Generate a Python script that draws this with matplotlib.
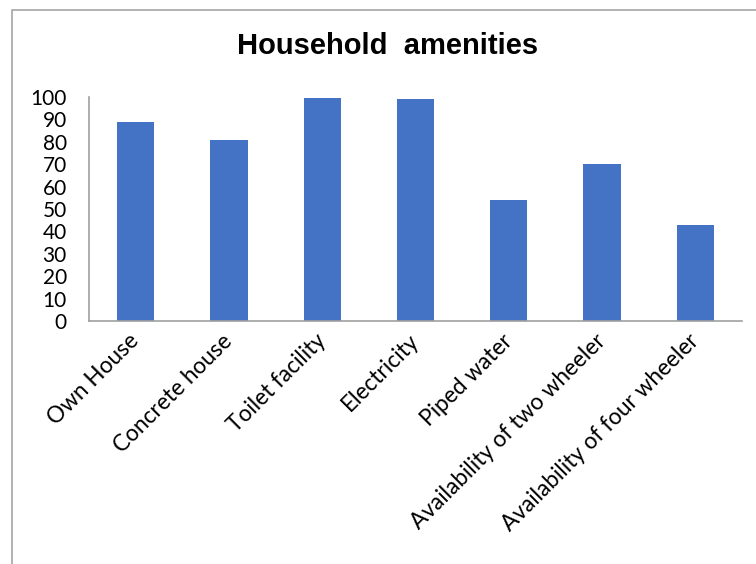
import matplotlib.pyplot as plt
from matplotlib.patches import Rectangle

categories = ["Own House", "Concrete house", "Toilet facility", "Electricity",
              "Piped water", "Availability of two wheeler",
              "Availability of four wheeler"]
values = [89, 81, 99.5, 99, 54, 70, 43]
yticks = [0, 10, 20, 30, 40, 50, 60, 70, 80, 90, 100]

W, H = 756, 564
fig = plt.figure(figsize=(W / 100, H / 100), dpi=100)

# outer chart frame (only left and top edges fall inside the image)
fig.patches.append(Rectangle((12 / W, -0.1), 1.2, 1.1 - 10 / H,
                             transform=fig.transFigure, fill=False,
                             edgecolor="#a6a6a6", lw=1.2))

ax = fig.add_axes([89 / W, (H - 321) / H, (742 - 89) / W, (321 - 97) / H])
x = range(len(categories))
ax.bar(x, values, width=0.4, color="#4472C4")

ax.set_xlim(-0.5, len(categories) - 0.5)
ax.set_ylim(0, 100)
ax.set_yticks(yticks)
ax.set_yticklabels([str(t) for t in yticks], fontsize=15, family="Lato")
ax.set_xticks(list(x))
ax.set_xticklabels(categories, rotation=45, ha="right", va="center",
                   rotation_mode="anchor", fontsize=16.3, family="Lato")
ax.tick_params(axis="both", length=0)
ax.tick_params(axis="y", pad=16)
ax.tick_params(axis="x", pad=12)

for side in ("top", "right"):
    ax.spines[side].set_visible(False)
for side in ("left", "bottom"):
    ax.spines[side].set_color("#a0a0a0")
    ax.spines[side].set_linewidth(1.2)

fig.text(388 / W, 1 - 46 / H, "Household  amenities", ha="center", va="center",
         fontsize=21, fontweight="bold", family="Liberation Sans")

fig.savefig("out.png", dpi=100)
